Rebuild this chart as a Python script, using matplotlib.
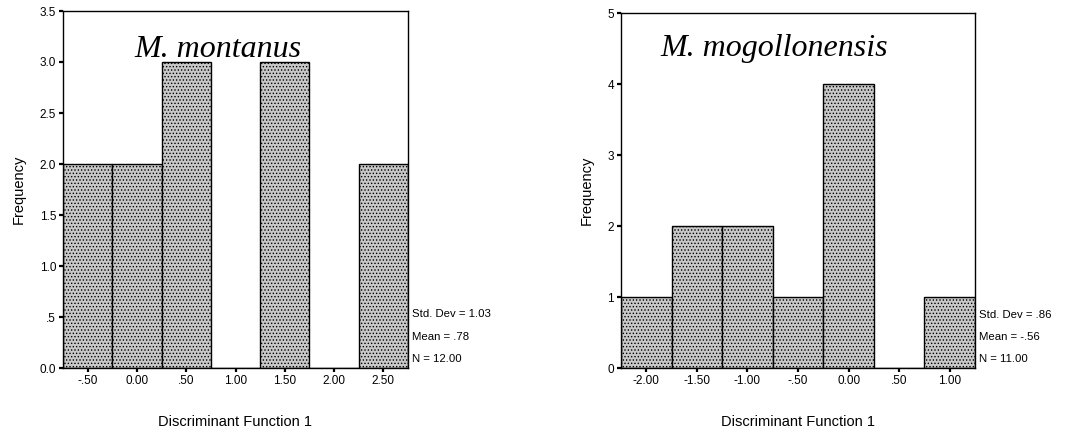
import matplotlib
matplotlib.use("Agg")
import matplotlib.pyplot as plt
import numpy as np

plt.rcParams['font.family'] = ['Liberation Sans', 'DejaVu Sans']

# Left panel: M. montanus
mont_centers = [-0.5, 0.0, 0.5, 1.0, 1.5, 2.0, 2.5]
mont_counts = [2, 2, 3, 0, 3, 0, 2]
mont_ticklabels = ['-.50', '0.00', '.50', '1.00', '1.50', '2.00', '2.50']
mont_yticks = [0.0, 0.5, 1.0, 1.5, 2.0, 2.5, 3.0, 3.5]
mont_yticklabels = ['0.0', '.5', '1.0', '1.5', '2.0', '2.5', '3.0', '3.5']
mont_stats = ['Std. Dev = 1.03', 'Mean = .78', 'N = 12.00']

# Right panel: M. mogollonensis
mog_centers = [-2.0, -1.5, -1.0, -0.5, 0.0, 0.5, 1.0]
mog_counts = [1, 2, 2, 1, 4, 0, 1]
mog_ticklabels = ['-2.00', '-1.50', '-1.00', '-.50', '0.00', '.50', '1.00']
mog_yticks = [0, 1, 2, 3, 4, 5]
mog_yticklabels = ['0', '1', '2', '3', '4', '5']
mog_stats = ['Std. Dev = .86', 'Mean = -.56', 'N = 11.00']

W, H = 1068, 436
fig = plt.figure(figsize=(W / 100, H / 100), dpi=100)

plt.rcParams['hatch.color'] = '#8f8f8f'
plt.rcParams['hatch.linewidth'] = 0.6

def make_ax(l, r, t, b):
    return fig.add_axes([l / W, 1 - b / H, (r - l) / W, (b - t) / H])

def draw(ax, centers, counts, ticklabels, yticks, yticklabels, ymax, stats, title, title_xy):
    ax.bar(centers, counts, width=0.5, color='#c8c8c8', edgecolor='black',
           linewidth=1.0, hatch='.....', zorder=2)
    ax.set_xlim(centers[0] - 0.25, centers[-1] + 0.25)
    ax.set_ylim(0, ymax)
    ax.set_xticks(centers)
    ax.set_xticklabels(ticklabels, fontsize=8.5)
    ax.set_yticks(yticks)
    ax.set_yticklabels(yticklabels, fontsize=8.5)
    ax.tick_params(axis='both', length=3, width=1.6, direction='out', pad=2)
    for s in ax.spines.values():
        s.set_linewidth(1.0)
    ax.set_xlabel('Discriminant Function 1', fontsize=10.5, labelpad=20)
    ax.set_ylabel('Frequency', fontsize=10.5, labelpad=10)
    for i, s in enumerate(stats):
        ax.text(1.012, 0.15 - i * 0.062, s, transform=ax.transAxes,
                fontsize=8.2, ha='left', va='center')
    ax.text(title_xy[0], title_xy[1], title, transform=ax.transAxes,
            fontsize=23, family=['Liberation Serif', 'DejaVu Serif'],
            style='italic', ha='left', va='baseline', zorder=1)

ax1 = make_ax(63, 408, 11, 368)
draw(ax1, mont_centers, mont_counts, mont_ticklabels, mont_yticks, mont_yticklabels,
     3.5, mont_stats, 'M. montanus', (0.208, 0.872))

ax2 = make_ax(621, 975, 13, 368)
draw(ax2, mog_centers, mog_counts, mog_ticklabels, mog_yticks, mog_yticklabels,
     5, mog_stats, 'M. mogollonensis', (0.11, 0.88))

fig.savefig('out.png', dpi=100)
